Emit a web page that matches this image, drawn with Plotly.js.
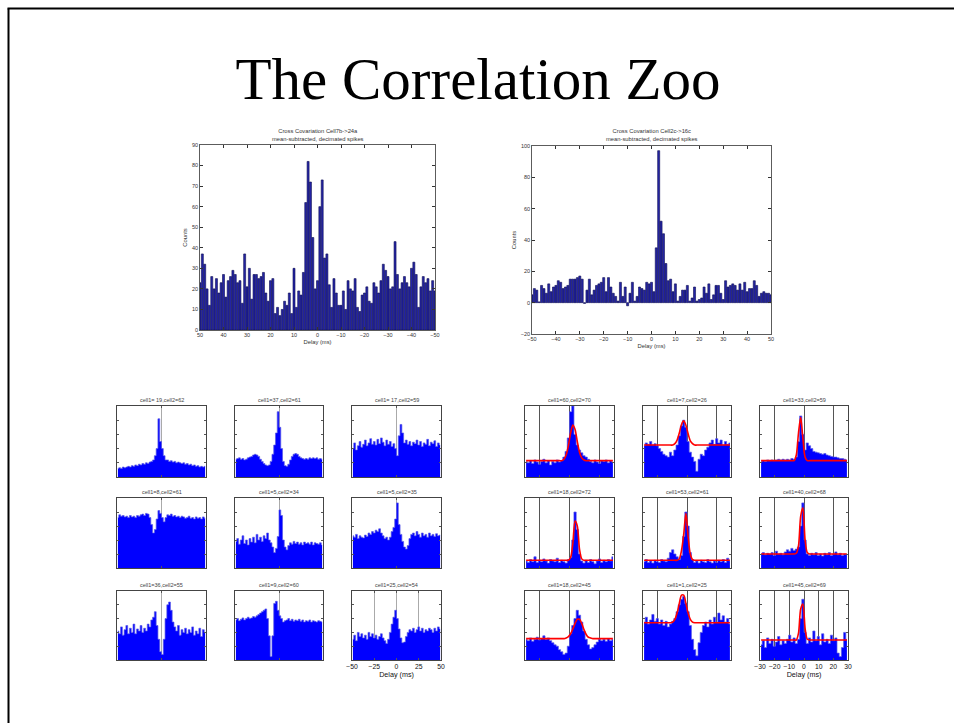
<!DOCTYPE html>
<html><head><meta charset="utf-8">
<script src="https://cdn.plot.ly/plotly-3.0.1.min.js"></script>
<style>html,body{margin:0;padding:0;background:#fff}#chart{width:954px;height:723px}</style>
</head><body><div id="chart"></div>
<script>
// ---------- DATA ----------
const pageTitle = 'The Correlation Zoo';
const bigLeftTitle = 'Cross Covariation Cell7b->24a<br>mean-subtracted, decimated spikes';
const bigRightTitle = 'Cross Covariation Cell2c->16c<br>mean-subtracted, decimated spikes';
// counts, delay 50 ms down to -50 ms (1 ms bins)
const bigLeftCounts = [23,37,32,20,12,26,20,25,18,23, 27,16,24,26,29,27,23,24,13,37,
  21,30,15,27,27,25,26,28,18,14, 24,25,8,11,7,10,14,12,18,8,
  30,11,19,17,28,62,82,72,45,20, 24,60,73,35,37,22,11,25,18,12,
  12,19,10,24,20,19,25,11,9,17, 18,21,14,13,23,21,18,24,32,29,
  26,20,21,43,27,20,23,26,23,21, 30,33,27,11,21,26,23,25,19,24, 19];
// counts, delay -50 ms up to 50 ms (1 ms bins)
const bigRightCounts = [5,9,8,0.5,11,9,6,12,7,10, 11,14,13,9,10,11,15,15,15,16,
  17,15,-0.5,8,15,5,8,11,12,13, 16,7,16,10,6,4,1,13,4,10,
  -2,6,13,1,4,10,9,8,13,12, 13,7,35,97,52,44,25,14,15,7,
  12,1,4,8,8,11,1,3,10,1, 2,3,10,6,12,2,5,11,11,6,
  2,14,10,11,12,11,8,12,8,13, 7,9,9,14,11,4,6,7,6,6, 5];

// left 3x3 grid (delay -50..50 ms, 2 ms bins; values as % of panel height)
const leftTitles = ['cell1= 19,cell2=62','cell1=37,cell2=61','cell1= 17,cell2=59',
  'cell1=8,cell2=61','cell1=5,cell2=34','cell1=5,cell2=35',
  'cell1=36,cell2=55','cell1=9,cell2=60','cell1=25,cell2=54'];
const L1 = [12,13,12,14,13,14,15,14,16,15, 17,16,18,17,19,18,20,19,21,22, 24,30,40,82,50,40,30,24,24,22, 23,21,22,20,21,20,19,20,18,19, 17,18,16,17,15,16,14,15,14,15];
const L2 = [25,26,27,25,26,24,25,27,28,29, 31,32,31,29,25,22,19,17,16,17, 22,32,45,62,92,70,40,22,16,15, 18,24,29,32,33,32,29,27,26,25, 26,25,27,26,27,26,27,25,26,25];
const L3 = [40,48,38,44,50,42,46,52,44,48, 54,46,50,45,53,47,55,49,44,52, 46,50,43,47,40,30,58,74,62,48, 52,46,50,44,49,47,52,45,50,43, 48,46,53,44,49,47,51,43,48,45];
const L4 = [72,76,74,75,73,74,72,75,73,74, 72,75,74,76,77,75,78,77,72,62, 50,55,70,82,78,72,66,72,76,75, 77,74,75,73,74,72,74,73,71,72, 74,71,72,70,73,71,72,70,73,71];
const L5 = [38,42,34,40,46,35,40,33,42,37, 44,36,48,40,44,38,46,42,50,40, 36,30,22,28,45,83,75,40,30,26, 32,36,34,38,35,37,34,36,33,37, 35,36,34,37,33,36,35,34,36,33];
const L6 = [46,44,48,42,46,44,43,47,45,50, 48,52,50,54,52,56,50,46,42,44, 40,44,52,58,70,93,62,48,38,30, 27,32,42,48,50,46,52,48,44,50, 46,48,44,50,46,48,45,49,46,47];
const L7 = [42,38,48,36,44,50,38,46,40,52, 38,45,42,50,40,46,42,52,48,58, 62,70,50,30,12,8,30,60,80,84, 72,55,48,42,50,36,44,40,46,38, 44,40,48,36,42,38,46,34,44,40];
const L8 = [58,60,57,59,61,58,60,62,60,61, 63,62,64,66,68,70,72,74,60,35, 5,35,82,85,72,64,60,55,57,58, 60,57,59,56,58,57,59,56,58,55, 57,56,58,55,57,56,55,57,56,55];
const L9 = [30,36,28,40,34,38,32,36,30,40, 34,38,32,36,30,34,38,32,28,24, 30,40,52,62,72,60,45,32,25,26, 34,40,44,42,46,40,44,48,42,46, 40,44,42,46,44,40,46,42,48,45];
const leftTickVals = [-50,-25,0,25,50];

// right 3x3 grid (delay -30..30 ms, 1.5 ms bins; values as % of panel height), red = fitted curve
const rightTitles = ['cell1=60,cell2=70','cell1=7,cell2=26','cell1=33,cell2=59',
  'cell1=18,cell2=72','cell1=53,cell2=61','cell1=40,cell2=68',
  'cell1=18,cell2=45','cell1=1,cell2=25','cell1=45,cell2=69'];
const R1 = [22,20,23,19,24,21,18,22,25,20, 23,17,22,20,24,21,23,28,36,55, 92,100,60,45,38,34,30,28,25,22, 20,24,21,19,23,22,24,20,23,21];
const R1fit = [23,23,23,23,23,23,23,23,23,23, 23,23,23,23,23,23,23,25,31,44, 62,73,67,50,35,27,24,23,23,23, 23,23,23,23,23,23,23,23,23,23];
const R2 = [44,48,46,50,45,47,44,40,36,32, 30,28,35,30,38,45,58,72,80,70, 50,35,28,22,8,25,32,30,38,42, 48,52,46,54,48,52,45,50,46,48];
const R2fit = [45,45,45,45,45,45,45,45,45,45, 45,45,45,45,47,52,62,74,79,73, 61,51,47,45,45,45,45,45,45,45, 45,45,45,45,45,45,45,45,45,45];
const R3 = [22,23,22,24,23,24,23,24,25,24, 25,24,25,24,26,25,28,50,86,60, 38,48,44,40,36,35,34,33,32,33, 31,30,29,28,28,27,26,26,25,24];
const R3fit = [23,23,23,23,23,23,23,23,23,23, 23,23,23,23,23,23,31,62,84,54, 28,23,23,23,23,23,23,23,23,23, 23,23,23,23,23,23,23,23,23,23];
const R4 = [10,8,12,9,16,8,11,9,13,10, 7,12,10,9,14,8,11,9,7,12, 15,40,80,55,20,10,7,11,8,12, 9,6,10,13,8,11,9,12,10,16];
const R4fit = [11,11,11,11,11,11,11,11,11,11, 11,11,11,11,11,11,11,11,11,11, 15,35,67,60,27,13,11,11,11,11, 11,11,11,11,11,11,11,11,11,11];
const R5 = [9,12,8,10,7,11,9,8,12,10, 9,14,22,26,20,16,12,18,45,80, 60,22,12,8,10,7,11,9,8,12, 9,7,10,8,11,9,12,8,14,10];
const R5fit = [11,11,11,11,11,11,11,11,11,11, 11,11,11,11,11,11,13,25,48,78, 45,20,12,11,11,11,11,11,11,11, 11,11,11,11,11,11,11,11,11,11];
const R6 = [20,22,19,21,20,22,18,24,20,21, 19,23,26,24,28,25,27,30,60,93, 40,20,18,21,19,22,18,20,17,21, 19,22,18,20,23,19,21,18,20,19];
const R6fit = [20,20,20,20,20,20,20,20,20,20, 20,20,20,20,20,20,21,32,74,86, 40,22,20,20,20,20,20,20,20,20, 20,20,20,20,20,20,20,20,20,20];
const R7 = [30,28,32,27,30,33,29,31,35,30, 32,28,25,22,20,15,12,8,10,20, 38,50,60,72,65,55,42,30,22,16, 18,22,26,30,28,30,27,31,28,30];
const R7fit = [31,31,31,31,31,31,31,31,31,31, 31,31,31,31,31,31,31,31,32,34, 38,45,53,59,59,53,44,37,33,32, 31,31,31,31,31,31,31,31,31,31];
const R8 = [55,62,52,58,66,56,60,52,58,50, 56,48,52,56,60,70,80,88,92,82, 70,50,30,15,6,25,40,50,55,48, 58,52,62,55,68,58,64,55,60,52];
const R8fit = [54,54,54,54,54,54,54,54,54,54, 54,54,54,55,59,68,82,94,94,82, 68,59,55,54,54,54,54,54,54,54, 54,54,54,54,54,54,54,54,54,54];
const R9 = [22,28,18,32,24,30,20,26,34,22, 28,24,30,36,26,32,24,30,60,88, 40,24,32,26,42,28,34,22,38,26, 30,24,36,28,32,10,5,18,40,30];
const R9fit = [29,29,29,29,29,29,29,29,29,29, 29,29,29,29,29,29,29,39,74,81, 46,30,29,29,29,29,29,29,29,29, 29,29,29,29,29,29,29,29,29,29];
const rightTickVals = [-30,-20,-10,0,10,20,30];

// ---------- LAYOUT / DRAWING ----------
const W = 954, H = 723;
const FONT = 'Liberation Sans, Arial, sans-serif';
const leftData = [L1,L2,L3,L4,L5,L6,L7,L8,L9];
const rightData = [R1,R2,R3,R4,R5,R6,R7,R8,R9];
const rightFits = [R1fit,R2fit,R3fit,R4fit,R5fit,R6fit,R7fit,R8fit,R9fit];

const bigLeftX = bigLeftCounts.map((_, i) => 50 - i);
const bigRightX = bigRightCounts.map((_, i) => -50 + i);
const leftX = L1.map((_, i) => -49 + 2 * i);
const rightX = R1.map((_, i) => -29.25 + 1.5 * i);

const xd = (a, b) => [a / W, b / W];
const yd = (t, b) => [1 - b / H, 1 - t / H];

const traces = [];
const layout = {
  width: W, height: H, margin: {l: 0, r: 0, t: 0, b: 0},
  paper_bgcolor: '#fff', plot_bgcolor: '#fff', showlegend: false,
  font: {family: FONT, color: '#222'},
  title: {text: pageTitle, font: {family: 'Liberation Serif, Times New Roman, serif', size: 59, color: '#000'},
          x: 478 / W, xref: 'paper', xanchor: 'center', y: 1 - 78 / H, yref: 'container', yanchor: 'middle'},
  annotations: [], shapes: []
};

const bigAxis = {showline: true, mirror: 'ticks', linecolor: '#333', linewidth: 0.8, ticks: 'inside', ticklen: 3,
  tickcolor: '#333', showgrid: false, zeroline: false, tickfont: {size: 5.5, color: '#333'}};

// big left
traces.push({type: 'bar', x: bigLeftX, y: bigLeftCounts, width: 0.85, xaxis: 'x', yaxis: 'y',
  marker: {color: '#2424a6', line: {color: '#0c0c50', width: 0.6}}, hoverinfo: 'x+y'});
layout.xaxis = Object.assign({}, bigAxis, {domain: xd(200, 435), anchor: 'y', range: [50, -50], dtick: 10, tick0: 0,
  title: {text: 'Delay (ms)', font: {size: 5.8, color: '#333'}, standoff: 2}});
layout.yaxis = Object.assign({}, bigAxis, {domain: yd(145, 330), anchor: 'x', range: [0, 90], dtick: 10,
  title: {text: 'Counts', font: {size: 5.8, color: '#333'}, standoff: 3}});
layout.annotations.push({text: bigLeftTitle, xref: 'paper', yref: 'paper', x: 317.5 / W, y: 1 - 135 / H,
  showarrow: false, xanchor: 'center', yanchor: 'middle', font: {size: 5.8, color: '#333'}});

// big right
traces.push({type: 'bar', x: bigRightX, y: bigRightCounts, width: 0.85, xaxis: 'x2', yaxis: 'y2',
  marker: {color: '#2424a6', line: {color: '#0c0c50', width: 0.6}}, hoverinfo: 'x+y'});
layout.xaxis2 = Object.assign({}, bigAxis, {domain: xd(532, 771), anchor: 'y2', range: [-50, 50], dtick: 10, tick0: 0,
  title: {text: 'Delay (ms)', font: {size: 5.8, color: '#333'}, standoff: 2}});
layout.yaxis2 = Object.assign({}, bigAxis, {domain: yd(146, 334), anchor: 'x2', range: [-20, 100], dtick: 20,
  title: {text: 'Counts', font: {size: 5.8, color: '#333'}, standoff: 3}});
layout.annotations.push({text: bigRightTitle, xref: 'paper', yref: 'paper', x: 651.5 / W, y: 1 - 135 / H,
  showarrow: false, xanchor: 'center', yanchor: 'middle', font: {size: 5.8, color: '#333'}});

// small grids
const rowsY = [[406, 477], [498, 568], [591, 660]];
const leftCols = [[117, 206], [235, 323], [352, 441]];
const rightCols = [[525, 614], [643, 731], [760, 848]];
let n = 3;
function smallPanel(cols, r, c, xs, ys, fit, range, gridVals, isLast, titleText) {
  const xa = 'x' + n, ya = 'y' + n;
  traces.push({type: 'scatter', mode: 'lines', x: xs, y: ys, xaxis: xa, yaxis: ya,
    fill: 'tozeroy', fillcolor: '#0000ff', line: {color: '#5a5ae6', width: 0.7, shape: 'hvh'}, hoverinfo: 'x+y'});
  if (fit) traces.push({type: 'scatter', mode: 'lines', x: xs, y: fit, xaxis: xa, yaxis: ya,
    line: {color: '#ff0000', width: 1.6, shape: 'spline', smoothing: 0.8}, hoverinfo: 'skip'});
  const [x0, x1] = cols[c], [t, b] = rowsY[r];
  layout['xaxis' + n] = {domain: xd(x0, x1), anchor: ya, range: range,
    tickvals: gridVals, showticklabels: isLast, ticks: 'inside', ticklen: 2, tickcolor: '#555',
    showline: true, mirror: 'ticks', linecolor: '#444', linewidth: 1,
    showgrid: true, gridcolor: fit ? '#555' : '#aaa', gridwidth: 1, zeroline: false,
    tickfont: {size: 6.8, color: '#111'},
    title: isLast ? {text: 'Delay (ms)', font: {size: 7.2, color: '#111'}, standoff: 1} : {text: ''}};
  layout['yaxis' + n] = {domain: yd(t, b), anchor: xa, range: [0, 100], tickvals: [20, 40, 60, 80],
    showticklabels: false, ticks: 'inside', ticklen: 2, tickcolor: '#555',
    showline: true, mirror: 'ticks', linecolor: '#444', linewidth: 1, showgrid: false, zeroline: false};
  layout.annotations.push({text: titleText, xref: 'paper', yref: 'paper', x: (x0 + x1) / 2 / W, y: 1 - (t - 6) / H,
    showarrow: false, xanchor: 'center', yanchor: 'middle', font: {size: 5.5, color: '#444'}});
  n++;
}
for (let i = 0; i < 9; i++) {
  const r = Math.floor(i / 3), c = i % 3, last = (i === 8);
  smallPanel(leftCols, r, c, leftX, leftData[i], null, [-50, 50], last ? leftTickVals : [0], last, leftTitles[i]);
}
for (let i = 0; i < 9; i++) {
  const r = Math.floor(i / 3), c = i % 3, last = (i === 8);
  smallPanel(rightCols, r, c, rightX, rightData[i], rightFits[i], [-30, 30], last ? rightTickVals : [-20, 0, 20], last, rightTitles[i]);
}

// slide frame (left and top edges)
layout.shapes.push({type: 'line', xref: 'paper', yref: 'paper', x0: 8.5 / W, x1: 8.5 / W, y0: 0, y1: 1 - 8.5 / H, line: {color: '#000', width: 2}});
layout.shapes.push({type: 'line', xref: 'paper', yref: 'paper', x0: 7.5 / W, x1: 1, y0: 1 - 8.5 / H, y1: 1 - 8.5 / H, line: {color: '#000', width: 2}});

Plotly.newPlot('chart', traces, layout, {displayModeBar: false, staticPlot: true});
</script>
</body></html>
